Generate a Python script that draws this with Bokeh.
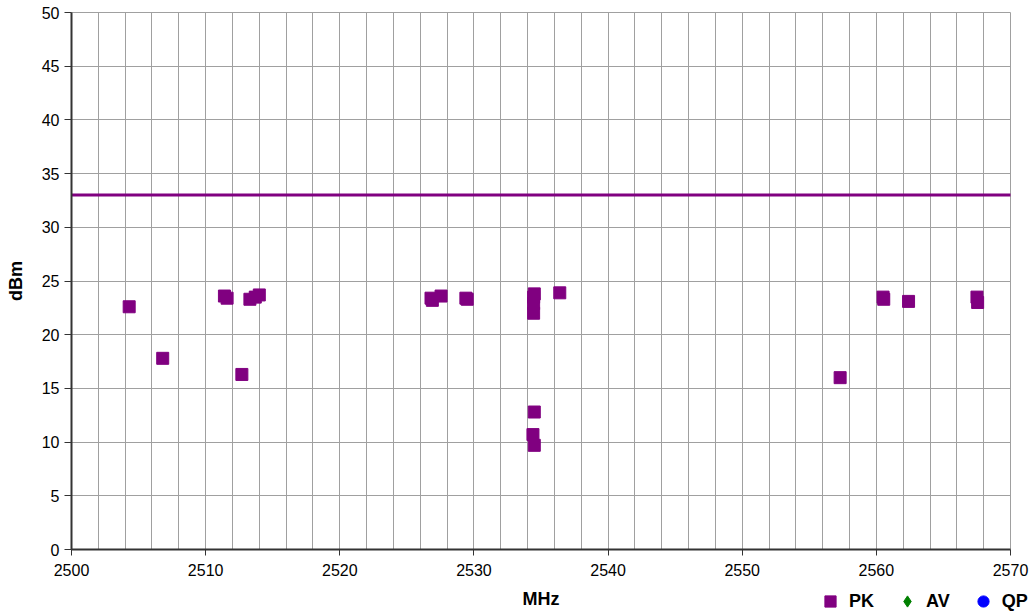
import math
from bokeh.plotting import figure
from bokeh.models import (FixedTicker, Legend, LegendItem, ColumnDataSource,
                          BoxAnnotation, Label)
from bokeh.embed import file_html
from bokeh.resources import INLINE

nan = float("nan")

# data
pk_freq = [2504.3, 2506.8, 2511.4, 2511.6, 2512.7, 2513.3, 2513.7, 2514.0,
           2526.8, 2526.9, 2527.55, 2529.4, 2529.5,
           2534.5, 2534.45, 2534.45, 2534.45, 2534.5, 2534.4, 2534.5, 2536.4,
           2557.3, 2560.5, 2560.55, 2562.4, 2567.5, 2567.55]
pk_level = [22.6, 17.8, 23.6, 23.4, 16.3, 23.3, 23.5, 23.7,
            23.4, 23.2, 23.6, 23.4, 23.3,
            23.8, 23.5, 22.9, 22.0, 12.8, 10.7, 9.7, 23.9,
            16.0, 23.5, 23.3, 23.1, 23.5, 23.0]
av_freq, av_level = [nan], [nan]   # no AV points in the chart
qp_freq, qp_level = [nan], [nan]   # no QP points in the chart
limit_dbm = 33
x_ticks = [2500, 2510, 2520, 2530, 2540, 2550, 2560, 2570]
y_ticks = [0, 5, 10, 15, 20, 25, 30, 35, 40, 45, 50]
x_grid = list(range(2500, 2571, 2))

FONT = "Liberation Sans"
PURPLE = "#800080"

# layout (pixels)
W, H = 1029, 615
TOP_PX = 12               # where y = 50 sits
X0_PX, X1_PX = 71, 1010   # where 2500 and 2570 sit
ZERO_PX = 549             # where y = 0 sits
x_lo, x_hi = x_ticks[0], x_ticks[-1]
y_lo, y_hi = y_ticks[0], y_ticks[-1]
ppx = (X1_PX - X0_PX) / (x_hi - x_lo)
ppy = (ZERO_PX - TOP_PX) / (y_hi - y_lo)
x_min = x_lo - X0_PX / ppx
x_max = x_hi + (W - X1_PX) / ppx
y_max = y_hi + TOP_PX / ppy
y_min = y_lo - (H - ZERO_PX) / ppy

p = figure(width=W, height=H, output_backend="svg", toolbar_location=None,
           x_range=(x_min, x_max), y_range=(y_min, y_max),
           min_border_left=0, min_border_right=0, min_border_top=0,
           min_border_bottom=0)
p.outline_line_color = None
p.background_fill_color = "white"

p.xaxis.ticker = FixedTicker(ticks=x_ticks)
p.yaxis.ticker = FixedTicker(ticks=y_ticks)
p.xgrid.ticker = FixedTicker(ticks=x_grid)
p.ygrid.ticker = FixedTicker(ticks=y_ticks)
for g in (p.xgrid, p.ygrid):
    g.grid_line_color = "#a0a0a0"
    g.grid_line_width = 1

if "cross_bounds" in p.xgrid[0].properties():
    p.xgrid[0].cross_bounds = (y_lo, y_hi)
    p.ygrid[0].cross_bounds = (x_lo, x_hi)
else:
    for kw in (dict(top=y_lo), dict(bottom=y_hi), dict(right=x_lo), dict(left=x_hi)):
        p.add_layout(BoxAnnotation(fill_color="white", fill_alpha=1, line_color=None,
                                   level="underlay", **kw))

for ax in (p.xaxis, p.yaxis):
    ax.axis_line_color = "#333333"
    ax.axis_line_width = 2
    ax.major_tick_line_color = "#333333"
    ax.major_tick_line_width = 1
    ax.major_tick_out = 6
    ax.major_tick_in = 0
    ax.minor_tick_line_color = None
    ax.major_label_text_font = FONT
    ax.major_label_text_font_size = "16px"
    ax.major_label_text_color = "black"
    ax.axis_label_text_font = FONT
    ax.axis_label_text_font_size = "18px"
    ax.axis_label_text_font_style = "bold"
    ax.axis_label_text_color = "black"

p.xaxis.fixed_location = y_lo
p.yaxis.fixed_location = x_lo
p.xaxis.bounds = (x_lo, x_hi)
p.yaxis.bounds = (y_lo, y_hi)
p.xaxis.axis_label = "MHz"
p.xaxis.major_label_standoff = 8
p.xaxis.axis_label_standoff = 10
p.yaxis.major_tick_out = 7
p.yaxis.major_label_standoff = 5

p.add_layout(Label(x=15, y=(y_lo + y_hi) / 2, x_units="screen", y_units="data",
                   text="dBm", angle=math.pi / 2, text_align="center",
                   text_baseline="middle", text_font=FONT, text_font_size="18px",
                   text_font_style="bold", text_color="black"))

# limit line
p.segment(x0=[x_lo], x1=[x_hi], y0=[limit_dbm], y1=[limit_dbm],
          line_color=PURPLE, line_width=3)

src_pk = ColumnDataSource(dict(x=pk_freq, y=pk_level))
src_av = ColumnDataSource(dict(x=av_freq, y=av_level))
src_qp = ColumnDataSource(dict(x=qp_freq, y=qp_level))
r_pk = p.scatter("x", "y", source=src_pk, marker="square", size=12,
                 fill_color=PURPLE, line_color=PURPLE)
r_av = p.scatter("x", "y", source=src_av, marker="diamond", size=13,
                 fill_color="#008000", line_color="#008000")
r_qp = p.scatter("x", "y", source=src_qp, marker="circle", size=11,
                 fill_color="#0000ff", line_color="#0000ff")

legend = Legend(items=[LegendItem(label="PK", renderers=[r_pk]),
                       LegendItem(label="AV", renderers=[r_av]),
                       LegendItem(label="QP", renderers=[r_qp])],
                orientation="horizontal", location=(816, 0),
                label_text_font=FONT, label_text_font_size="18px",
                label_text_font_style="bold", label_text_color="black",
                glyph_width=28, glyph_height=28,
                spacing=19, padding=0, margin=0, label_standoff=5,
                border_line_color=None, background_fill_alpha=0)
p.add_layout(legend, "center")

open("out.html", "w").write(file_html(p, INLINE))
